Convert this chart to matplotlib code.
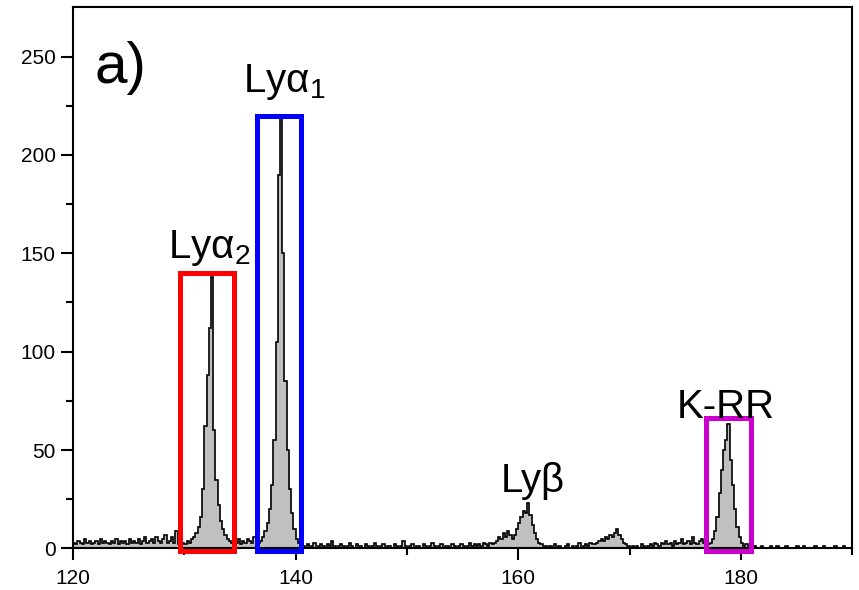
import numpy as np
import matplotlib.pyplot as plt
from matplotlib.patches import Rectangle

plt.rcParams["font.family"] = ["Liberation Sans", "DejaVu Sans"]
plt.rcParams["mathtext.fontset"] = "custom"
plt.rcParams["mathtext.rm"] = "Liberation Sans"
plt.rcParams["mathtext.default"] = "regular"

# spectrum counts, 0.2 wide bins starting at 120
bin_start = 120.0
bin_width = 0.2
noise_120_129 = [3, 2, 4, 3, 2, 5, 3, 4, 2, 3, 4, 2, 5, 3, 4, 3, 2, 4, 3, 5,
                 2, 4, 3, 4, 2, 5, 3, 4, 3, 5, 2, 4, 6, 3, 4, 5, 3, 6, 4, 3,
                 5, 7, 3, 4, 6, 3, 9, 2]
ly_a2 = [2, 3, 2, 4, 3, 5, 6, 8, 11, 16, 30, 62, 88, 112, 138, 60, 35, 22, 14, 10,
         7, 5, 4, 3, 4]
noise_134_136 = [3, 5, 2, 4, 3, 5, 4, 3, 6, 4, 3]
ly_a1 = [4, 6, 9, 13, 20, 32, 55, 105, 190, 220, 150, 85, 50, 30, 18, 10, 5, 3]
noise_140_157 = [2, 1, 0, 2, 1, 1, 3, 0, 1, 2, 1, 0, 2, 1, 4, 1, 0, 1, 2, 1,
                 0, 1, 3, 1, 0, 2, 1, 1, 0, 2, 1, 0, 1, 3, 1, 0, 1, 2, 0, 1,
                 1, 0, 2, 1, 0, 1, 4, 1, 0, 1, 2, 0, 1, 1, 0, 2, 1, 0, 1, 3,
                 1, 0, 1, 2, 0, 1, 1, 0, 2, 1, 0, 1, 2, 1, 0, 1, 3, 1, 2, 1,
                 2, 1, 3, 2, 1, 3, 2]
ly_b = [3, 4, 6, 5, 8, 6, 9, 7, 5, 7, 10, 13, 16, 19, 18, 23, 17, 12, 8, 5,
        3, 2, 1]
noise_162_166 = [1, 0, 1, 0, 2, 0, 1, 0, 0, 1, 2, 0, 1, 0, 1, 3, 0, 1, 2, 1, 3, 2]
bump_169 = [2, 3, 4, 5, 4, 6, 5, 7, 6, 8, 10, 7, 5, 3, 2, 1, 0]
noise_170_176 = [1, 0, 1, 0, 2, 1, 0, 1, 2, 1, 3, 2, 1, 3, 2, 4, 2, 3, 1, 4,
                 2, 3, 5, 2, 3, 4, 2, 6, 3, 2, 4, 5, 3, 2]
k_rr = [2, 3, 5, 9, 16, 28, 40, 50, 55, 63, 45, 32, 20, 11, 6, 3, 1, 2, 1, 0]
noise_181_190 = [0, 1, 0, 0, 1, 0, 0, 0, 1, 0, 0, 1, 0, 0, 0, 1, 0, 0, 0, 0,
                 1, 0, 0, 1, 0, 0, 0, 0, 1, 0, 0, 0, 1, 0, 0, 0, 0, 1, 0, 0,
                 0, 1, 0, 0, 0]

# line labels and marker boxes (x0, x1, top)
labels = ["Ly\u03b1$_2$", "Ly\u03b1$_1$", "Ly\u03b2", "K-RR"]
label_pos = [(128.5, 147.5), (135.3, 232.0), (158.4, 28.5), (174.2, 66.5)]
boxes = [(129.6, 134.5, 140.0), (136.5, 140.5, 219.8), (176.9, 180.9, 66.5)]
box_colors = ["#ff0000", "#0000ff", "#cc00cc"]

counts = np.concatenate([noise_120_129, ly_a2, noise_134_136, ly_a1, noise_140_157,
                         ly_b, noise_162_166, bump_169, noise_170_176, k_rr,
                         noise_181_190])
edges = bin_start + bin_width * np.arange(len(counts) + 1)

fig = plt.figure(figsize=(8.59, 5.90), dpi=100)
ax = fig.add_axes([0.085, 0.0705, 0.907, 0.917])

ax.stairs(counts, edges, fill=True, color="#c0c0c0", zorder=2)
ax.stairs(counts, edges, color="black", linewidth=1.2, zorder=3)

for (x0, x1, top), c in zip(boxes, box_colors):
    ax.add_patch(Rectangle((x0, -1.2), x1 - x0, top + 1.2, fill=False,
                           edgecolor=c, linewidth=3.6, zorder=4, clip_on=False))

for txt, (x, y) in zip(labels, label_pos):
    ax.text(x, y, txt, fontsize=29, ha="left", va="baseline", zorder=5)
ax.text(121.9, 236.5, "a)", fontsize=42, ha="left", va="baseline")

ax.set_xlim(120, 190)
ax.set_ylim(0, 275)
ax.set_xticks([120, 140, 160, 180])
ax.set_xticks(np.arange(130, 191, 20), minor=True)
ax.set_yticks([0, 50, 100, 150, 200, 250])
ax.set_yticks(np.arange(25, 275, 50), minor=True)
ax.tick_params(which="major", direction="out", length=8.5, width=1.5,
               labelsize=15, pad=4)
ax.tick_params(which="minor", direction="out", length=5, width=1.5)
ax.tick_params(axis="x", which="major", pad=6)
for s in ax.spines.values():
    s.set_linewidth(1.5)

fig.savefig("out.png", dpi=100)
